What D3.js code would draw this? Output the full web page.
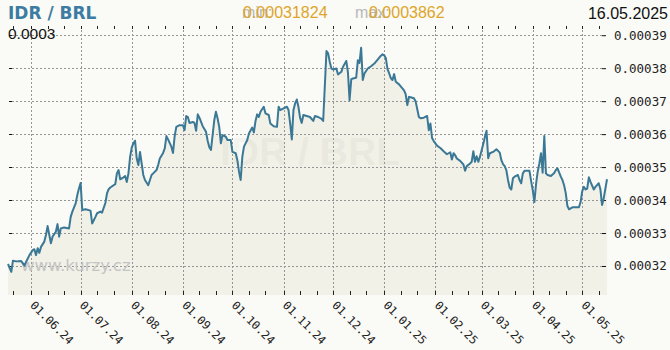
<!DOCTYPE html>
<html><head><meta charset="utf-8">
<script src="https://cdn.jsdelivr.net/npm/d3@7"></script>
<style>html,body{margin:0;padding:0;background:#fafaf6;} svg{display:block}</style>
</head><body><svg id="c" width="670" height="350"></svg>
<script>
const dates = [
"2024-05-18","2024-05-20","2024-05-21","2024-05-23","2024-05-26","2024-05-28","2024-05-29","2024-05-31",
"2024-06-02","2024-06-03","2024-06-04","2024-06-05","2024-06-06","2024-06-07","2024-06-09","2024-06-10","2024-06-11","2024-06-13","2024-06-14","2024-06-16","2024-06-17","2024-06-18","2024-06-19","2024-06-21","2024-06-24","2024-06-25","2024-06-26","2024-06-28","2024-06-29","2024-06-30",
"2024-07-01","2024-07-02","2024-07-04","2024-07-07","2024-07-08","2024-07-10","2024-07-11","2024-07-13","2024-07-14","2024-07-16","2024-07-17","2024-07-18","2024-07-19","2024-07-21","2024-07-22","2024-07-23","2024-07-24","2024-07-25","2024-07-27","2024-07-28","2024-07-29","2024-07-30","2024-07-31",
"2024-08-01","2024-08-02","2024-08-03","2024-08-04","2024-08-05","2024-08-06","2024-08-07","2024-08-08","2024-08-09","2024-08-11","2024-08-13","2024-08-14","2024-08-16","2024-08-17","2024-08-18","2024-08-20","2024-08-21","2024-08-22","2024-08-23","2024-08-25","2024-08-26","2024-08-27","2024-08-28","2024-08-30",
"2024-09-01","2024-09-02","2024-09-03","2024-09-04","2024-09-05","2024-09-07","2024-09-08","2024-09-09","2024-09-10","2024-09-11","2024-09-13","2024-09-15","2024-09-16","2024-09-17","2024-09-18","2024-09-19","2024-09-20","2024-09-21","2024-09-22","2024-09-23","2024-09-24","2024-09-25","2024-09-27","2024-09-28","2024-09-30",
"2024-10-01","2024-10-03","2024-10-04","2024-10-05","2024-10-06","2024-10-07","2024-10-08","2024-10-10","2024-10-11","2024-10-13","2024-10-14","2024-10-15","2024-10-16","2024-10-17","2024-10-18","2024-10-20","2024-10-21","2024-10-23","2024-10-24","2024-10-26","2024-10-28","2024-10-29","2024-10-30",
"2024-11-01","2024-11-03","2024-11-04","2024-11-05","2024-11-06","2024-11-07","2024-11-08","2024-11-09","2024-11-10","2024-11-11","2024-11-12","2024-11-13","2024-11-15","2024-11-17","2024-11-19","2024-11-20","2024-11-22","2024-11-24","2024-11-25","2024-11-27","2024-11-28","2024-11-29","2024-11-30",
"2024-12-01","2024-12-03","2024-12-04","2024-12-06","2024-12-07","2024-12-09","2024-12-10","2024-12-11","2024-12-12","2024-12-13","2024-12-15","2024-12-16","2024-12-17","2024-12-18","2024-12-19","2024-12-20","2024-12-22","2024-12-24","2024-12-26","2024-12-28","2024-12-30","2024-12-31",
"2025-01-01","2025-01-02","2025-01-03","2025-01-04","2025-01-05","2025-01-06","2025-01-07","2025-01-08","2025-01-10","2025-01-11","2025-01-13","2025-01-14","2025-01-15","2025-01-16","2025-01-17","2025-01-19","2025-01-20","2025-01-21","2025-01-22","2025-01-23","2025-01-25","2025-01-27","2025-01-28","2025-01-29","2025-01-30","2025-01-31",
"2025-02-02","2025-02-04","2025-02-06","2025-02-08","2025-02-10","2025-02-11","2025-02-12","2025-02-13","2025-02-14","2025-02-16","2025-02-18","2025-02-19","2025-02-20","2025-02-22","2025-02-23","2025-02-24","2025-02-25","2025-02-26","2025-02-27","2025-02-28",
"2025-03-02","2025-03-03","2025-03-04","2025-03-05","2025-03-06","2025-03-08","2025-03-10","2025-03-12","2025-03-13","2025-03-14","2025-03-15","2025-03-16","2025-03-17","2025-03-18","2025-03-19","2025-03-20","2025-03-21","2025-03-23","2025-03-24","2025-03-25","2025-03-26","2025-03-27","2025-03-30","2025-03-31",
"2025-04-01","2025-04-02","2025-04-03","2025-04-04","2025-04-05","2025-04-06","2025-04-07","2025-04-08","2025-04-09","2025-04-10","2025-04-12","2025-04-14","2025-04-15","2025-04-16","2025-04-18","2025-04-19","2025-04-20","2025-04-21","2025-04-22","2025-04-23","2025-04-25","2025-04-29","2025-04-30",
"2025-05-01","2025-05-02","2025-05-03","2025-05-04","2025-05-05","2025-05-06","2025-05-08","2025-05-09","2025-05-11","2025-05-12","2025-05-13","2025-05-14","2025-05-16"
];
const rates = [
0.0003206,0.00031824,0.0003216,0.0003214,0.0003215,0.0003201,0.0003213,0.0003233,
0.0003248,0.0003251,0.0003233,0.0003254,0.0003240,0.0003258,0.0003274,0.0003294,0.0003321,0.0003269,0.0003289,0.0003304,0.0003327,0.0003289,0.0003314,0.0003317,0.0003314,0.0003349,0.0003365,0.0003390,0.0003415,0.0003435,
0.0003452,0.0003370,0.0003372,0.0003368,0.0003329,0.0003349,0.0003360,0.0003365,0.0003362,0.0003391,0.0003420,0.0003433,0.0003438,0.0003445,0.0003448,0.0003481,0.0003491,0.0003463,0.0003469,0.0003473,0.0003455,0.0003481,0.0003531,
0.0003560,0.0003572,0.0003580,0.0003526,0.0003506,0.0003546,0.0003511,0.0003476,0.0003461,0.0003445,0.0003476,0.0003481,0.0003491,0.0003506,0.0003526,0.0003543,0.0003557,0.0003594,0.0003584,0.0003562,0.0003543,0.0003594,0.0003622,0.0003627,
0.0003627,0.0003612,0.0003655,0.0003652,0.0003634,0.0003637,0.0003634,0.0003610,0.0003660,0.0003650,0.0003624,0.0003607,0.0003580,0.0003560,0.0003552,0.0003597,0.0003642,0.0003668,0.0003648,0.0003622,0.0003572,0.0003597,0.0003592,0.0003582,0.0003582,
0.0003546,0.0003542,0.0003521,0.0003486,0.0003461,0.0003531,0.0003562,0.0003582,0.0003602,0.0003620,0.0003605,0.0003640,0.0003660,0.0003652,0.0003668,0.0003683,0.0003663,0.0003658,0.0003632,0.0003624,0.0003622,0.0003683,0.0003673,
0.0003678,0.0003683,0.0003673,0.0003632,0.0003584,0.0003673,0.0003693,0.0003705,0.0003683,0.0003650,0.0003634,0.0003658,0.0003655,0.0003652,0.0003640,0.0003655,0.0003652,0.0003646,0.0003640,0.0003852,0.0003845,0.0003819,0.0003799,
0.0003796,0.0003799,0.0003781,0.0003789,0.0003804,0.0003822,0.0003788,0.0003703,0.0003766,0.0003769,0.0003771,0.0003824,0.0003816,0.0003862,0.0003764,0.0003784,0.0003799,0.0003806,0.0003814,0.0003826,0.0003838,0.0003842,
0.0003839,0.0003830,0.0003797,0.0003784,0.0003770,0.0003764,0.0003782,0.0003759,0.0003751,0.0003745,0.0003733,0.0003721,0.0003688,0.0003713,0.0003712,0.0003709,0.0003700,0.0003676,0.0003652,0.0003648,0.0003650,0.0003655,0.0003612,0.0003632,0.0003588,0.0003579,
0.0003565,0.0003558,0.0003548,0.0003539,0.0003545,0.0003523,0.0003542,0.0003536,0.0003526,0.0003519,0.0003508,0.0003489,0.0003503,0.0003511,0.0003516,0.0003548,0.0003516,0.0003533,0.0003516,0.0003531,
0.0003570,0.0003591,0.0003610,0.0003527,0.0003542,0.0003546,0.0003554,0.0003544,0.0003521,0.0003509,0.0003503,0.0003491,0.0003461,0.0003438,0.0003432,0.0003466,0.0003471,0.0003476,0.0003461,0.0003451,0.0003481,0.0003489,0.0003489,0.0003458,
0.0003430,0.0003394,0.0003448,0.0003486,0.0003511,0.0003542,0.0003483,0.0003594,0.0003481,0.0003476,0.0003473,0.0003482,0.0003491,0.0003496,0.0003471,0.0003461,0.0003445,0.0003421,0.0003382,0.0003372,0.0003378,0.0003378,0.0003394,
0.0003427,0.0003440,0.0003432,0.0003435,0.0003469,0.0003455,0.0003432,0.0003440,0.0003451,0.0003433,0.0003385,0.0003405,0.0003463
];
const yTickValues = [0.00032,0.00033,0.00034,0.00035,0.00036,0.00037,0.00038,0.00039];
const monthTicks = ["2024-06-01","2024-07-01","2024-08-01","2024-09-01","2024-10-01","2024-11-01","2024-12-01","2025-01-01","2025-02-01","2025-03-01","2025-04-01","2025-05-01"];
const pairName = "IDR / BRL";
const lastDateLabel = "16.05.2025";
const minLabel = "min:", maxLabel = "max:";
const siteLabel = "www.kurzy.cz";
const cornerLabel = "0.0003";

const parse = d3.utcParse("%Y-%m-%d");
const data = dates.map((d,i)=>({date: parse(d), v: rates[i]}));
const L=8, R=607, T=26, B=295;
const x = d3.scaleUtc().domain([parse("2024-05-18"), parse("2025-05-16")]).range([L, R]);
const y = d3.scaleLinear().domain([0.0003112, 0.0003928]).range([B, T]);

const svg = d3.select("#c");
svg.append("rect").attr("width",670).attr("height",350).attr("fill","#fafaf6");

// area
svg.append("path").datum(data)
  .attr("d", d3.area().x(d=>x(d.date)).y0(B).y1(d=>y(d.v)))
  .attr("fill","#f1f1e7");

// big watermark
svg.append("text").attr("x",310).attr("y",165).attr("text-anchor","middle")
  .attr("font-family","Liberation Sans, Arial, sans-serif").attr("font-weight","bold")
  .attr("font-size",39).attr("fill","#000").attr("fill-opacity",0.05).text(pairName);

// horizontal grid
svg.append("g").selectAll("line").data(yTickValues).join("line")
  .attr("x1",L+4).attr("x2",R-5).attr("y1",d=>Math.round(y(d))+0.5).attr("y2",d=>Math.round(y(d))+0.5)
  .attr("stroke","#959595").attr("stroke-dasharray","2,2");
// vertical grid
const mt = monthTicks.map(parse);
svg.append("g").selectAll("line").data(mt).join("line")
  .attr("x1",d=>Math.round(x(d))+0.5).attr("x2",d=>Math.round(x(d))+0.5).attr("y1",T+4).attr("y2",B)
  .attr("stroke","#959595").attr("stroke-dasharray","2,2");

// minor ticks top/bottom
const minor = d3.utcDay.every(10).range(x.domain()[0], x.domain()[1]).filter(d=>d.getUTCDate()!==31);
svg.append("g").selectAll("line").data(minor).join("line")
  .attr("x1",d=>Math.round(x(d))+0.5).attr("x2",d=>Math.round(x(d))+0.5).attr("y1",T).attr("y2",T+3)
  .attr("stroke","#222");
svg.append("g").selectAll("line").data(minor).join("line")
  .attr("x1",d=>Math.round(x(d))+0.5).attr("x2",d=>Math.round(x(d))+0.5).attr("y1",B-4).attr("y2",B)
  .attr("stroke","#222");
// left ticks
svg.append("g").selectAll("line").data(yTickValues).join("line")
  .attr("x1",L+1).attr("x2",L+4).attr("y1",d=>Math.round(y(d))+0.5).attr("y2",d=>Math.round(y(d))+0.5)
  .attr("stroke","#111");

// right axis
const ax = svg.append("g").attr("transform",`translate(${R-5},0)`)
  .call(d3.axisRight(y).tickValues(yTickValues).tickSize(4).tickPadding(8).tickFormat(d3.format(".5f")));
ax.select(".domain").remove();
ax.selectAll("line").attr("stroke","#111");
ax.selectAll("text").attr("font-family","DejaVu Sans Mono, monospace").attr("font-size",12.5).attr("fill","#222");

// bottom axis labels
const bx = svg.append("g").attr("transform",`translate(0,${B})`)
  .call(d3.axisBottom(x).tickValues(mt).tickSize(0).tickFormat(d3.utcFormat("%d.%m.%y")));
bx.select(".domain").remove();
bx.selectAll("text").attr("x",0).attr("y",0).attr("dy",0).attr("text-anchor","start")
  .attr("transform","translate(-2,11) rotate(45)")
  .attr("font-family","DejaVu Sans Mono, monospace").attr("font-size",11.5).attr("fill","#222");

// small watermark
svg.append("text").attr("x",21).attr("y",271).attr("font-family","DejaVu Sans, sans-serif")
  .attr("font-size",16.5).attr("fill","#c4c4c4").text(siteLabel);

// line
svg.append("path").datum(data)
  .attr("d", d3.line().x(d=>x(d.date)).y(d=>y(d.v)))
  .attr("fill","none").attr("stroke","#3a7896").attr("stroke-width",2).attr("stroke-linejoin","round");

// header (min/max labels overlap their values, as in the reference)
svg.append("text").attr("x",8).attr("y",19).attr("font-family","DejaVu Sans, sans-serif").attr("font-weight","bold")
  .attr("font-size",17).attr("fill","#3d7ca2").text(pairName);
svg.append("text").attr("x",242).attr("y",17.5).attr("font-family","Liberation Sans, Arial, sans-serif")
  .attr("font-size",16).attr("fill","#b8b8b8").text(minLabel);
svg.append("text").attr("x",243).attr("y",17.5).attr("font-family","Liberation Sans, Arial, sans-serif")
  .attr("font-size",16).attr("fill","#dfa52a").text(d3.format(".8f")(d3.min(rates)));
svg.append("text").attr("x",355).attr("y",17.5).attr("font-family","Liberation Sans, Arial, sans-serif")
  .attr("font-size",16).attr("fill","#b8b8b8").text(maxLabel);
svg.append("text").attr("x",369).attr("y",17.5).attr("font-family","Liberation Sans, Arial, sans-serif")
  .attr("font-size",16).attr("fill","#dfa52a").text(String(d3.max(rates)));
svg.append("text").attr("x",668).attr("y",18.5).attr("text-anchor","end").attr("font-family","Liberation Sans, Arial, sans-serif")
  .attr("font-size",16).attr("fill","#111").text(lastDateLabel);
svg.append("text").attr("x",8).attr("y",38.5).attr("font-family","Liberation Sans, Arial, sans-serif")
  .attr("font-size",15.5).attr("fill","#111").text(cornerLabel);
</script></body></html>
